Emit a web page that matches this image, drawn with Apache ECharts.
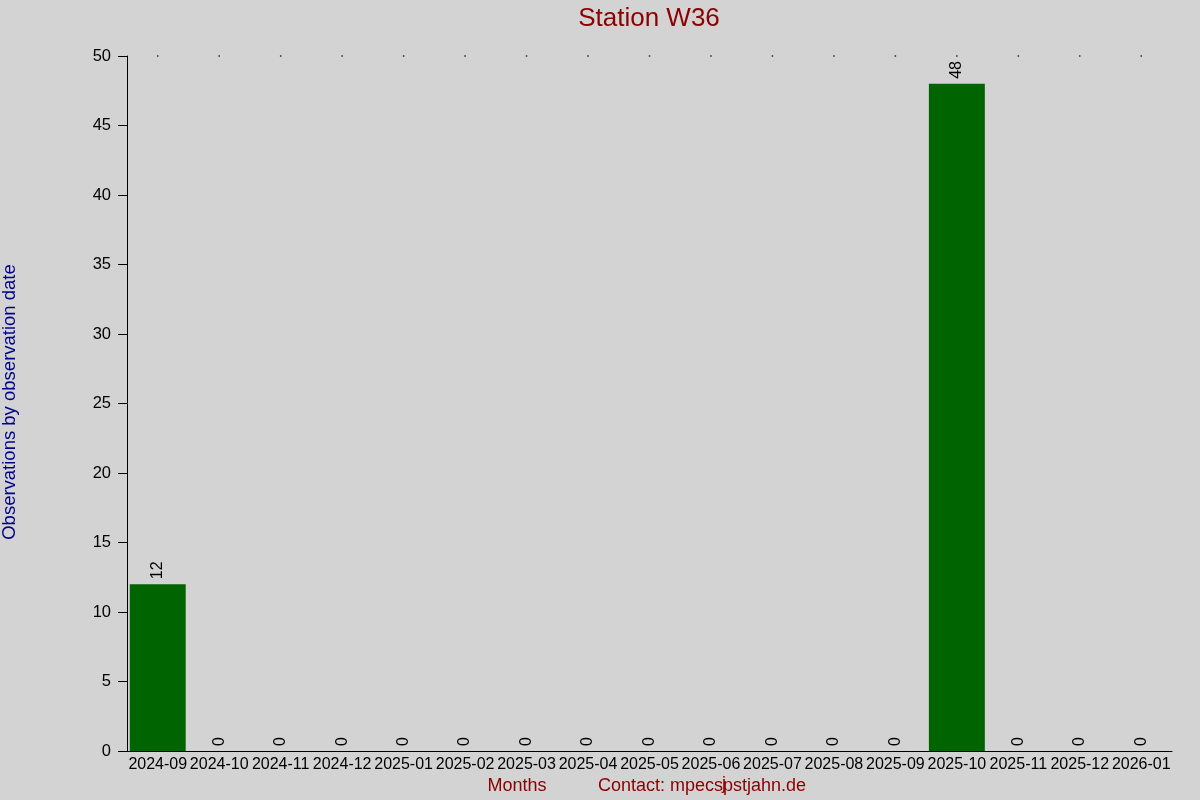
<!DOCTYPE html>
<html>
<head>
<meta charset="utf-8">
<title>Station W36</title>
<script src="https://cdn.jsdelivr.net/npm/echarts@6/dist/echarts.min.js"></script>
<style>
  html, body { margin: 0; padding: 0; background: #d3d3d3; }
  #main { width: 1200px; height: 800px; }
</style>
</head>
<body>
<div id="main"></div>
<script>
var months = ['2024-09', '2024-10', '2024-11', '2024-12', '2025-01', '2025-02', '2025-03', '2025-04', '2025-05',
    '2025-06', '2025-07', '2025-08', '2025-09', '2025-10', '2025-11', '2025-12', '2026-01'];
var observations = [12, 0, 0, 0, 0, 0, 0, 0, 0, 0, 0, 0, 0, 48, 0, 0, 0];
// little dots along the top of the plot
var topDots = [50, 50, 50, 50, 50, 50, 50, 50, 50, 50, 50, 50, 50, 50, 50, 50, 50];

var font = 'Liberation Sans, Arial, sans-serif';
var myChart = echarts.init(document.getElementById('main'));
var option = {
    backgroundColor: '#d3d3d3',
    animation: false,
    grid: { left: 127, right: 28, top: 56, bottom: 49 },
    xAxis: {
        type: 'category',
        data: months,
        axisLine: { lineStyle: { color: '#000', width: 1 } },
        axisTick: { show: false },
        axisLabel: { color: '#000', fontSize: 16, fontFamily: font, margin: 6, interval: 0 }
    },
    yAxis: {
        type: 'value',
        min: 0,
        max: 50,
        interval: 5,
        axisLine: { show: true, lineStyle: { color: '#000', width: 1 } },
        axisTick: { show: true, length: 9, lineStyle: { color: '#000' } },
        splitLine: { show: false },
        axisLabel: { color: '#000', fontSize: 16.5, fontFamily: font, margin: 16 }
    },
    graphic: [
        {
            type: 'text', x: 649, y: 19,
            style: { text: 'Station W36', fill: '#8b0000', fontSize: 26, fontFamily: font,
                textAlign: 'center', textVerticalAlign: 'middle' }
        },
        {
            type: 'text', x: 10, y: 402, rotation: Math.PI / 2,
            style: { text: 'Observations by observation date', fill: '#00008b', fontSize: 18.5,
                fontFamily: font, textAlign: 'center', textVerticalAlign: 'middle' }
        },
        {
            type: 'text', x: 517, y: 786,
            style: { text: 'Months', fill: '#8b0000', fontSize: 18, fontFamily: font,
                textAlign: 'center', textVerticalAlign: 'middle' }
        },
        {
            type: 'text', x: 598, y: 786,
            style: { text: 'Contact: mpecspstjahn.de', fill: '#8b0000', fontSize: 18, fontFamily: font,
                textAlign: 'left', textVerticalAlign: 'middle' }
        },
        {
            type: 'text', x: 722, y: 784,
            style: { text: 'j', fill: '#8b0000', fontSize: 18, fontFamily: font,
                textAlign: 'left', textVerticalAlign: 'middle' }
        }
    ],
    series: [
        {
            type: 'bar',
            data: observations,
            barCategoryGap: '9%',
            itemStyle: { color: '#006400' },
            label: {
                show: true,
                position: 'top',
                rotate: 90,
                distance: 5,
                align: 'left',
                verticalAlign: 'middle',
                color: '#000',
                fontSize: 16,
                fontFamily: font
            }
        },
        {
            type: 'scatter',
            data: topDots,
            symbol: 'rect',
            symbolSize: 1.5,
            itemStyle: { color: '#000' },
            silent: true
        }
    ]
};
myChart.setOption(option);
</script>
</body>
</html>
